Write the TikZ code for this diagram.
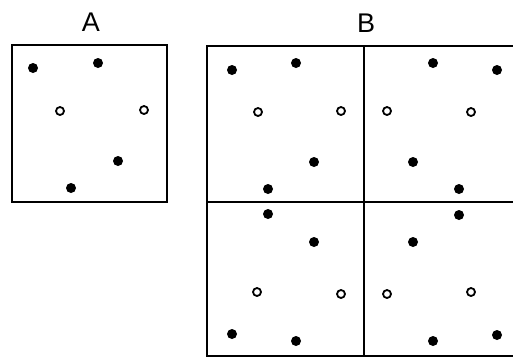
\documentclass[tikz,border=0pt]{standalone}
\usepackage{fontspec}
\setsansfont{Liberation Sans}
\begin{document}
\begin{tikzpicture}[x=1pt,y=-1pt,
  frame/.style={line width=2.2pt,draw=black},
  full/.style={circle,fill=black,inner sep=0pt,minimum size=10pt},
  hollow/.style={circle,draw=black,line width=1.8pt,fill=white,inner sep=0pt,minimum size=8pt},
  lbl/.style={font=\sffamily\fontsize{27}{27}\selectfont,inner sep=0pt}]
\useasboundingbox (0,0) rectangle (513,357);
\node[lbl] (la) at (91,22) {A};
\node[lbl] (lb) at (366,23) {B};
% box A
\draw[frame] (12,45) rectangle (167,202);
\node[full] (a1) at (33,68) {};
\node[full] (a2) at (98,63) {};
\node[hollow] (a3) at (60,111) {};
\node[hollow] (a4) at (144,110) {};
\node[full] (a5) at (118,161) {};
\node[full] (a6) at (71,188) {};
% box B
\begin{scope}
\clip (0,0) rectangle (513,357);
\draw[frame] (207,46) rectangle (521,356);
\draw[frame] (364,46) -- (364,356);
\draw[frame] (207,202) -- (521,202);
\end{scope}
% top-left
\node[full] (b1) at (232,70) {};
\node[full] (b2) at (296,63) {};
\node[hollow] (b3) at (258,112) {};
\node[hollow] (b4) at (341,111) {};
\node[full] (b5) at (314,162) {};
\node[full] (b6) at (268,189) {};
% top-right
\node[full] (c1) at (433,63) {};
\node[full] (c2) at (497,70) {};
\node[hollow] (c3) at (387,111) {};
\node[hollow] (c4) at (471,112) {};
\node[full] (c5) at (413,162) {};
\node[full] (c6) at (459,189) {};
% bottom-left
\node[full] (d1) at (268,214) {};
\node[full] (d2) at (314,242) {};
\node[hollow] (d3) at (257,292) {};
\node[hollow] (d4) at (341,294) {};
\node[full] (d5) at (232,334) {};
\node[full] (d6) at (296,341) {};
% bottom-right
\node[full] (e1) at (459,215) {};
\node[full] (e2) at (413,242) {};
\node[hollow] (e3) at (387,294) {};
\node[hollow] (e4) at (471,292) {};
\node[full] (e5) at (433,341) {};
\node[full] (e6) at (497,335) {};
\end{tikzpicture}
\end{document}
